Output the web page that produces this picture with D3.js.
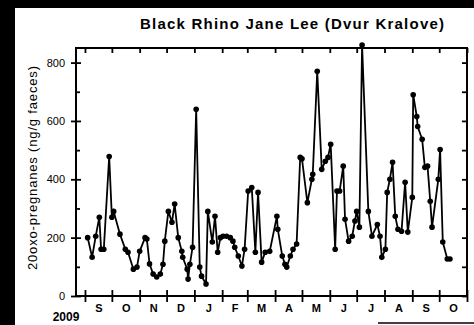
<!DOCTYPE html>
<html>
<head>
<meta charset="utf-8">
<script src="https://cdn.jsdelivr.net/npm/d3@7"></script>
<style>
  body { margin: 0; background: #fff; }
  svg { display: block; font-family: "Liberation Sans", Arial, sans-serif; }
</style>
</head>
<body>
<script>
// sample dates and hormone values
var dates = [
  "2009-09-04","2009-09-09","2009-09-13","2009-09-17","2009-09-19","2009-09-22","2009-09-28",
  "2009-10-01","2009-10-03","2009-10-10","2009-10-16","2009-10-19","2009-10-25","2009-10-29",
  "2009-11-01","2009-11-07","2009-11-09","2009-11-12","2009-11-16","2009-11-20","2009-11-24",
  "2009-11-27","2009-11-29","2009-12-03","2009-12-07","2009-12-10","2009-12-14","2009-12-18",
  "2009-12-19","2009-12-24","2009-12-25","2009-12-27","2009-12-30","2010-01-03","2010-01-07",
  "2010-01-09","2010-01-14","2010-01-16","2010-01-21","2010-01-24","2010-01-27","2010-01-30",
  "2010-02-02","2010-02-06","2010-02-10","2010-02-13","2010-02-15","2010-02-19","2010-02-23",
  "2010-02-26","2010-03-02","2010-03-06","2010-03-10","2010-03-13","2010-03-17","2010-03-21",
  "2010-03-26","2010-04-03","2010-04-04","2010-04-09","2010-04-12","2010-04-14","2010-04-18",
  "2010-04-21","2010-04-25","2010-04-29","2010-05-01","2010-05-07","2010-05-12","2010-05-13",
  "2010-05-18","2010-05-23","2010-05-27","2010-05-30","2010-06-02","2010-06-07","2010-06-09",
  "2010-06-12","2010-06-16","2010-06-18","2010-06-22","2010-06-26","2010-06-29","2010-07-01",
  "2010-07-04","2010-07-07","2010-07-14","2010-07-18","2010-07-24","2010-07-27","2010-07-29",
  "2010-08-02","2010-08-04","2010-08-07","2010-08-10","2010-08-13","2010-08-16","2010-08-20",
  "2010-08-24","2010-08-27","2010-09-01","2010-09-02","2010-09-06","2010-09-07","2010-09-12",
  "2010-09-15","2010-09-18","2010-09-21","2010-09-23","2010-09-30","2010-10-02","2010-10-05",
  "2010-10-10","2010-10-13"
];
var values = [
  200,133,205,270,160,160,478,
  270,290,212,160,150,92,99,
  153,200,195,110,75,65,75,
  109,188,290,253,315,200,153,
  133,92,58,109,167,640,99,
  68,41,290,185,273,150,200,
  205,205,200,188,167,137,103,
  160,360,372,150,355,116,150,
  153,273,229,137,109,99,137,
  160,178,475,470,320,400,417,
  770,434,462,475,520,160,360,
  360,445,263,188,205,257,290,
  236,860,290,205,245,205,133,
  160,355,400,458,273,229,222,
  390,219,338,690,615,581,537,
  441,445,325,236,400,502,185,
  127,127
];
var yTicks = [0, 200, 400, 600, 800];
var yMinor = [100, 300, 500, 700];
var title = "Black Rhino Jane Lee (Dvur Kralove)";
var yLabel = "20oxo-pregnanes (ng/g faeces)";

var W = 474, H = 325;
var margin = {top: 48, right: 7, bottom: 29, left: 76},
    width = W - margin.left - margin.right,
    height = H - margin.top - margin.bottom;

var parse = d3.timeParse("%Y-%m-%d");
var data = dates.map(function(d, i) { return {date: parse(d), value: values[i]}; });

var x = d3.scaleTime()
    .domain([new Date(2009, 7, 22), new Date(2010, 10, 1)])
    .range([0, width]);
var y = d3.scaleLinear().domain([0, 850]).range([height, 0]);

var months = d3.timeMonth.range(new Date(2009, 8, 1), new Date(2010, 10, 2));
var mids = months.slice(0, -1).map(function(m, i) {
  return new Date((m.getTime() + months[i + 1].getTime()) / 2);
});

var root = d3.select("body").append("svg")
    .attr("width", W)
    .attr("height", H);

// scan edges
root.append("rect").attr("x", 0).attr("y", 0).attr("width", W).attr("height", 8).attr("fill", "#000");
root.append("rect").attr("x", 0).attr("y", 0).attr("width", 15).attr("height", H).attr("fill", "#000");
root.append("line")
    .attr("x1", 378).attr("x2", W).attr("y1", 323).attr("y2", 323)
    .attr("stroke", "#000").attr("stroke-width", 1.5);

root.append("text")
    .attr("x", 292)
    .attr("y", 29)
    .attr("text-anchor", "middle")
    .attr("textLength", 304)
    .attr("lengthAdjust", "spacing")
    .style("font-size", "15px")
    .style("font-weight", "bold")
    .text(title);

root.append("text")
    .attr("transform", "translate(37,168) rotate(-90)")
    .attr("text-anchor", "middle")
    .attr("textLength", 204)
    .attr("lengthAdjust", "spacing")
    .style("font-size", "13px")
    .text(yLabel);

root.append("text")
    .attr("x", 66)
    .attr("y", 321)
    .attr("text-anchor", "middle")
    .style("font-size", "12px")
    .style("font-weight", "bold")
    .text("2009");

var svg = root.append("g")
    .attr("transform", "translate(" + margin.left + "," + margin.top + ")");

// frame
svg.append("rect")
    .attr("width", width)
    .attr("height", height)
    .attr("fill", "none")
    .attr("stroke", "#000")
    .attr("stroke-width", 2);

// bottom month ticks (crossing)
var gx = svg.append("g")
    .attr("transform", "translate(0," + height + ")")
    .call(d3.axisBottom(x).tickValues(months).tickSize(6).tickSizeOuter(0).tickFormat(""));
gx.selectAll(".tick line").attr("y1", -6);

// month letters
svg.append("g")
    .attr("class", "mlab")
    .attr("transform", "translate(0," + height + ")")
    .call(d3.axisBottom(x).tickValues(mids).tickSize(0).tickPadding(8)
      .tickFormat(function(d) { return d3.timeFormat("%b")(d).charAt(0); }));

// top ticks
svg.append("g")
    .call(d3.axisTop(x).tickValues(months).tickSize(-5).tickSizeOuter(0).tickFormat(""));

// left axis, major crossing + minor
var gy = svg.append("g")
    .attr("class", "ylab")
    .call(d3.axisLeft(y).tickValues(yTicks).tickSize(5).tickSizeOuter(0).tickPadding(6));
gy.selectAll(".tick line").attr("x1", 5);
svg.append("g")
    .call(d3.axisLeft(y).tickValues(yMinor).tickSize(-4).tickSizeOuter(0).tickFormat(""));

// right axis
svg.append("g")
    .attr("transform", "translate(" + width + ",0)")
    .call(d3.axisRight(y).tickValues(yTicks.concat(yMinor)).tickSize(-5).tickSizeOuter(0).tickFormat(""));

svg.selectAll(".domain").style("display", "none");
svg.selectAll(".tick line").attr("stroke", "#000").attr("stroke-width", 1.8);
svg.selectAll(".mlab text")
    .style("font-family", "Liberation Sans, Arial, sans-serif")
    .style("font-size", "11px")
    .style("font-weight", "bold")
    .attr("fill", "#000");
svg.selectAll(".ylab text")
    .style("font-family", "Liberation Sans, Arial, sans-serif")
    .style("font-size", "11px")
    .attr("fill", "#000");

var line = d3.line()
    .x(function(d) { return x(d.date); })
    .y(function(d) { return y(d.value); });

svg.append("path")
    .datum(data)
    .attr("fill", "none")
    .attr("stroke", "#000")
    .attr("stroke-width", 1.8)
    .attr("d", line);

svg.selectAll(".dot")
    .data(data)
  .enter().append("circle")
    .attr("class", "dot")
    .attr("r", 2.8)
    .attr("cx", function(d) { return x(d.date); })
    .attr("cy", function(d) { return y(d.value); })
    .attr("fill", "#000");
</script>
</body>
</html>
